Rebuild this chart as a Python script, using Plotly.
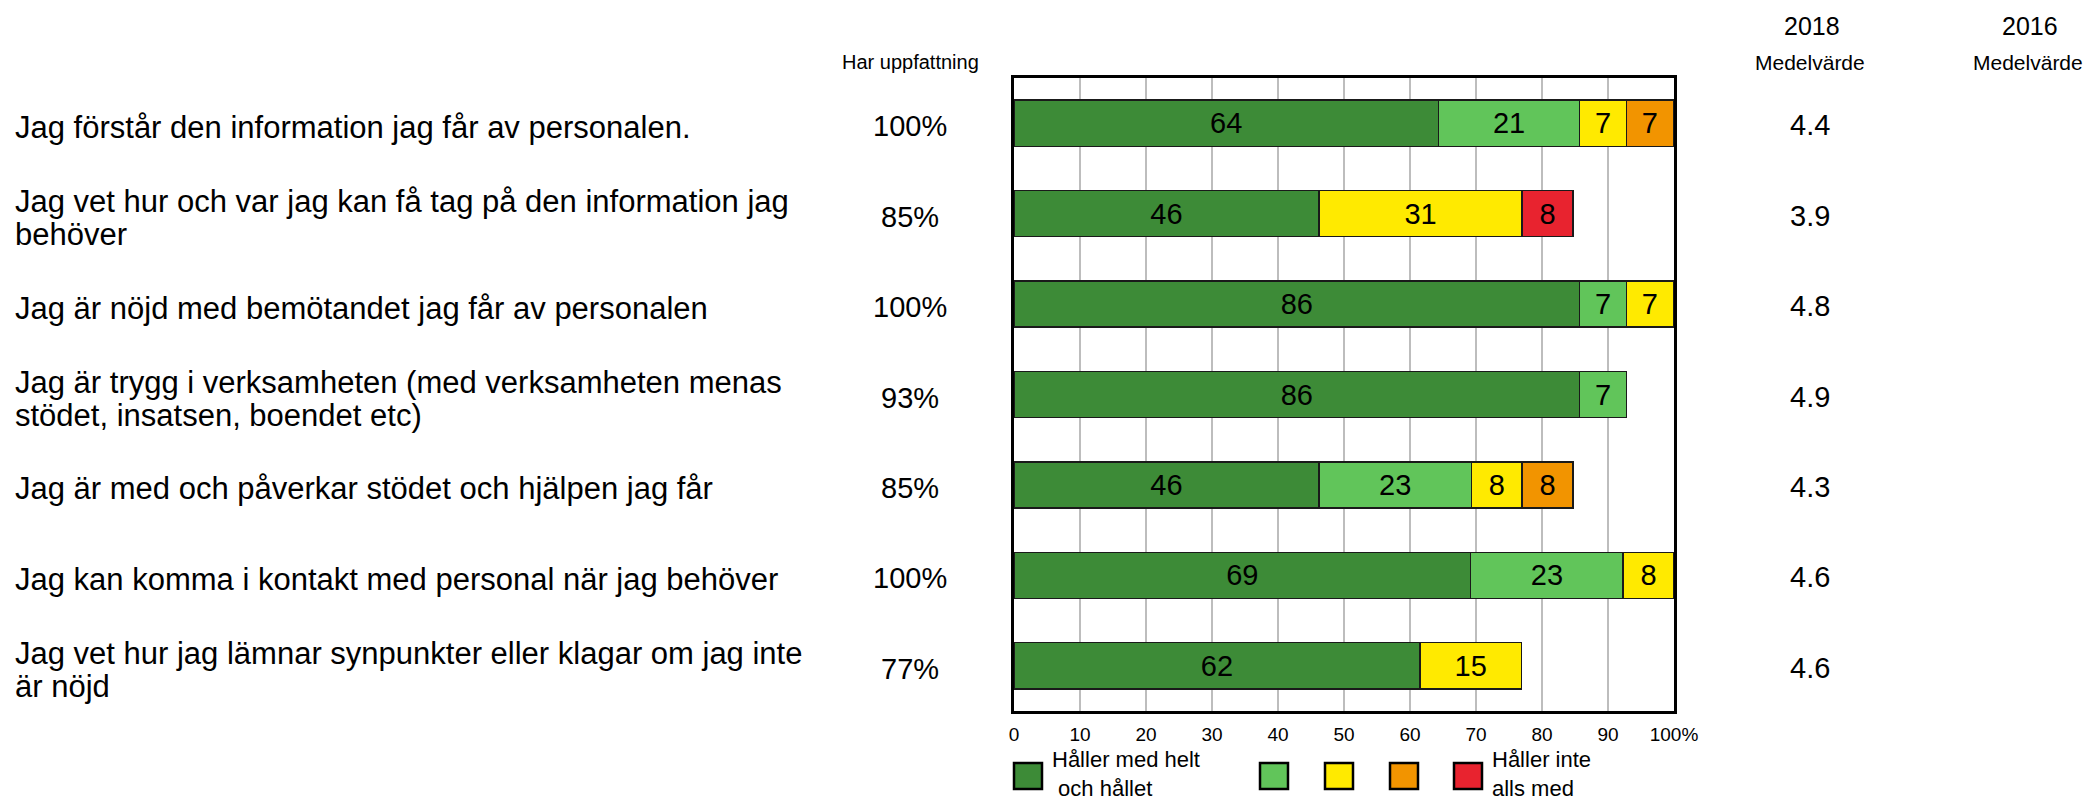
import plotly.graph_objects as go

# ---------------- data ----------------
questions = [
    ["Jag förstår den information jag får av personalen."],
    ["Jag vet hur och var jag kan få tag på den information jag", "behöver"],
    ["Jag är nöjd med bemötandet jag får av personalen"],
    ["Jag är trygg i verksamheten (med verksamheten menas", "stödet, insatsen, boendet etc)"],
    ["Jag är med och påverkar stödet och hjälpen jag får"],
    ["Jag kan komma i kontakt med personal när jag behöver"],
    ["Jag vet hur jag lämnar synpunkter eller klagar om jag inte", "är nöjd"],
]
agree_full = [64.3, 46.2, 85.7, 85.7, 46.2, 69.2, 61.5]
agree_part = [21.4, None, 7.1, 7.1, 23.1, 23.1, None]
neutral = [7.1, 30.8, 7.1, None, 7.7, 7.7, 15.4]
disagree_part = [7.1, None, None, None, 7.7, None, None]
disagree_full = [None, 7.7, None, None, None, None, None]
har_uppfattning = ["100%", "85%", "100%", "93%", "85%", "100%", "77%"]
medel_2018 = ["4.4", "3.9", "4.8", "4.9", "4.3", "4.6", "4.6"]
medel_2016 = [None] * 7

series_values = [agree_full, agree_part, neutral, disagree_part, disagree_full]
series_colors = ["#3D8B37", "#61C55A", "#FFEA00", "#F29400", "#E8232F"]
legend_labels = ["Håller med helt<br>&nbsp;och hållet", "", "", "", "Håller inte<br>alls med"]

tick_vals = [0, 10, 20, 30, 40, 50, 60, 70, 80, 90, 100]
tick_text = ["0", "10", "20", "30", "40", "50", "60", "70", "80", "90", "100%"]

header_left = "Har uppfattning"
header_years = ["2018", "2016"]
header_sub = "Medelvärde"

# ---------------- figure ----------------
FONT = "Liberation Sans, Arial, sans-serif"
cats = [" ".join(q) for q in questions]

fig = go.Figure()
for vals, col in zip(series_values, series_colors):
    fig.add_trace(go.Bar(
        y=cats, x=vals, orientation="h",
        marker=dict(color=col, line=dict(color="#1a1a1a", width=1.5)),
        texttemplate="%{x:.0f}", textposition="inside",
        insidetextanchor="middle", textangle=0,
        textfont=dict(family=FONT, size=29, color="black"),
        showlegend=False, hoverinfo="skip",
    ))

W, H = 2085, 804
L, R, T, B = 1014, 411, 78, 93
pw = W - L - R
ph = H - T - B

def px_x(x):
    return (x - L) / pw

def px_y(y):
    return (H - B - y) / ph

ann = []
# question labels (left aligned, one annotation per line)
line_gap = 33
for cat, q in zip(cats, questions):
    n = len(q)
    for i, line in enumerate(q):
        shift = ((n - 1) / 2 - i) * line_gap - 4
        ann.append(dict(xref="paper", yref="y", x=px_x(13), y=cat, text=line,
                        xanchor="left", yanchor="middle", showarrow=False,
                        yshift=shift,
                        font=dict(family=FONT, size=31, color="black")))

for cat, p, m in zip(cats, har_uppfattning, medel_2018):
    ann.append(dict(xref="paper", yref="y", x=px_x(910), y=cat, text=p,
                    xanchor="center", yanchor="middle", showarrow=False, yshift=-3,
                    font=dict(family=FONT, size=29, color="black")))
    ann.append(dict(xref="paper", yref="y", x=px_x(1810), y=cat, text=m,
                    xanchor="center", yanchor="middle", showarrow=False, yshift=-2,
                    font=dict(family=FONT, size=29, color="black")))

# headers
ann.append(dict(xref="paper", yref="paper", x=px_x(910), y=px_y(62), text=header_left,
                xanchor="center", yanchor="middle", showarrow=False,
                font=dict(family=FONT, size=20, color="black")))
for yr, cx in zip(header_years, [1812, 2030]):
    ann.append(dict(xref="paper", yref="paper", x=px_x(cx), y=px_y(26), text=yr,
                    xanchor="center", yanchor="middle", showarrow=False,
                    font=dict(family=FONT, size=25, color="black")))
    ann.append(dict(xref="paper", yref="paper", x=px_x(cx - 2), y=px_y(62), text=header_sub,
                    xanchor="center", yanchor="middle", showarrow=False,
                    font=dict(family=FONT, size=21, color="black")))

# legend (drawn manually)
shapes = []
box_x = [1014, 1260, 1325, 1390, 1454]
for bx, col, lab in zip(box_x, series_colors, legend_labels):
    shapes.append(dict(type="rect", xref="paper", yref="paper",
                       x0=px_x(bx), x1=px_x(bx + 28), y0=px_y(789), y1=px_y(763),
                       fillcolor=col, line=dict(color="black", width=2.5)))
    if lab:
        ann.append(dict(xref="paper", yref="paper", x=px_x(bx + 36), y=px_y(803),
                        text=lab, xanchor="left", yanchor="bottom", align="left",
                        showarrow=False,
                        font=dict(family=FONT, size=22, color="black")))

fig.update_layout(
    width=W, height=H,
    margin=dict(l=L, r=R, t=T, b=B, pad=0),
    paper_bgcolor="white", plot_bgcolor="white",
    barmode="stack", bargap=0.49,
    annotations=ann, shapes=shapes,
    font=dict(family=FONT, color="black"),
)
fig.update_xaxes(
    range=[0, 100], tickvals=tick_vals, ticktext=tick_text,
    showgrid=True, gridcolor="#BDBDBD", gridwidth=2,
    showline=True, mirror=True, linecolor="black", linewidth=2.5,
    ticks="", ticklabelstandoff=4, zeroline=False,
    tickfont=dict(family=FONT, size=19, color="black"),
)
fig.update_yaxes(
    categoryorder="array", categoryarray=cats, autorange="reversed",
    showticklabels=False, showgrid=False, ticks="",
    showline=True, mirror=True, linecolor="black", linewidth=2.5,
)

fig.write_html("out.html", config={"displayModeBar": False},
               post_script="document.body.style.margin='0';")
